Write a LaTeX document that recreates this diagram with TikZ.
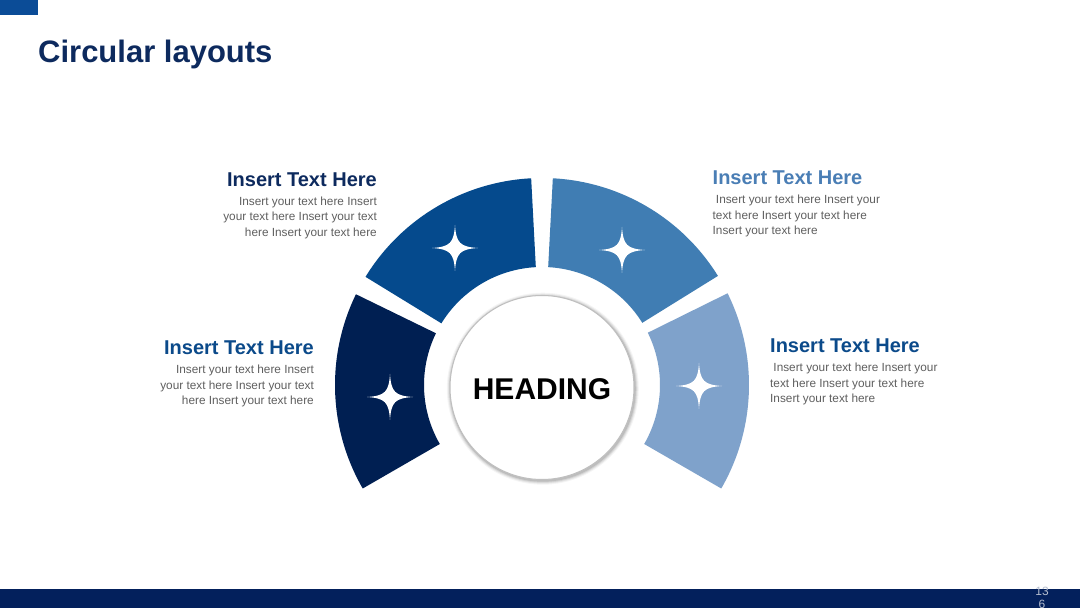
\documentclass[tikz,border=0pt]{standalone}
\usepackage{fontspec}
\setmainfont{Liberation Sans}
\definecolor{segA}{HTML}{001F52}
\definecolor{segB}{HTML}{054A8D}
\definecolor{segC}{HTML}{407DB3}
\definecolor{segD}{HTML}{7FA2CB}
\definecolor{navy}{HTML}{0D2A5E}
\definecolor{midblue}{HTML}{0B4A8A}
\definecolor{lightblue}{HTML}{4A7EB5}
\definecolor{bodygray}{HTML}{5F5F5F}
\definecolor{barnavy}{HTML}{03205C}
\definecolor{cornerblue}{HTML}{0B4C97}
\definecolor{pagenum}{HTML}{B4BDCF}
\begin{document}
\begin{tikzpicture}[x=1pt,y=1pt,
  headR/.style={anchor=base east,inner sep=0pt,font=\fontsize{20}{24}\selectfont\bfseries},
  headL/.style={anchor=base west,inner sep=0pt,font=\fontsize{20}{24}\selectfont\bfseries},
  bodyR/.style={anchor=north east,inner sep=0pt,align=right,text=bodygray,font=\fontsize{11.8}{15.5}\selectfont},
  bodyL/.style={anchor=north west,inner sep=0pt,align=left,text=bodygray,font=\fontsize{11.8}{15.5}\selectfont},
  starshape/.style={fill=white}
]
\useasboundingbox (0,0) rectangle (1080,608);
\fill[white] (0,0) rectangle (1080,608);
% top corner mark and bottom bar
\fill[cornerblue] (0,608) rectangle (38,592.5);
\fill[barnavy] (0,0) rectangle (1080,18.5);
\node[anchor=north,inner sep=0pt,align=center,text=pagenum,font=\fontsize{12}{13.5}\selectfont] (pg) at (1042,21.5) {13\\6};
% title
\node[anchor=base west,inner sep=0pt,text=navy,font=\fontsize{31}{36}\selectfont\bfseries] (title) at (38,545.3) {Circular layouts};
% segments
\coordinate (ctr) at (542,223);
\def\Ro{207pt}\def\Ri{118pt}
\fill[segA] ([shift={(154:\Ro)}]ctr) arc[start angle=154,end angle=210,radius=\Ro]
   -- ([shift={(210:\Ri)}]ctr) arc[start angle=210,end angle=154,radius=\Ri] -- cycle;
\fill[segB] ([shift={(93:\Ro)}]ctr) arc[start angle=93,end angle=148.5,radius=\Ro]
   -- ([shift={(148.5:\Ri)}]ctr) arc[start angle=148.5,end angle=93,radius=\Ri] -- cycle;
\fill[segC] ([shift={(31.8:\Ro)}]ctr) arc[start angle=31.8,end angle=87,radius=\Ro]
   -- ([shift={(87:\Ri)}]ctr) arc[start angle=87,end angle=31.8,radius=\Ri] -- cycle;
\fill[segD] ([shift={(-30:\Ro)}]ctr) arc[start angle=-30,end angle=26.3,radius=\Ro]
   -- ([shift={(26.3:\Ri)}]ctr) arc[start angle=26.3,end angle=-30,radius=\Ri] -- cycle;
% stars
\foreach \sx/\sy in {455/360, 622/358, 390/211, 699/222}{
  \begin{scope}[shift={(\sx,\sy)}]
  \fill[starshape] (0,23) .. controls (1.2,5) and (5,1.2) .. (23,0)
     .. controls (5,-1.2) and (1.2,-5) .. (0,-23)
     .. controls (-1.2,-5) and (-5,-1.2) .. (-23,0)
     .. controls (-5,1.2) and (-1.2,5) .. (0,23) -- cycle;
  \end{scope}
}
% central circle with soft shadow
\coordinate (cc) at (542,220.5);
\foreach \r/\o in {96/0.04, 95/0.06, 94/0.08, 93/0.10}{
  \fill[black,opacity=\o] ([shift={(0.8,-1.2)}]cc) circle[radius=\r pt];
}
\node[circle,fill=white,draw=black!25,line width=1pt,minimum size=184pt,inner sep=0pt] (hub) at (cc) {};
\node[inner sep=0pt,font=\fontsize{30}{34}\selectfont\bfseries] (heading) at (542,219.2) {HEADING};
% text blocks
\node[headR,text=navy] (h1) at (377,421.3) {Insert Text Here};
\node[bodyR] (b1) at (377,411.5) {Insert your text here Insert\\your text here Insert your text\\here Insert your text here};
\node[headR,text=midblue] (h2) at (314,253.7) {Insert Text Here};
\node[bodyR] (b2) at (314,243.2) {Insert your text here Insert\\your text here Insert your text\\here Insert your text here};
\node[headL,text=lightblue] (h3) at (712.5,423) {Insert Text Here};
\node[bodyL] (b3) at (712.5,413.2) {\ Insert your text here Insert your\\text here Insert your text here\\Insert your text here};
\node[headL,text=midblue] (h4) at (770,255.3) {Insert Text Here};
\node[bodyL] (b4) at (770,244.8) {\ Insert your text here Insert your\\text here Insert your text here\\Insert your text here};
\end{tikzpicture}
\end{document}
